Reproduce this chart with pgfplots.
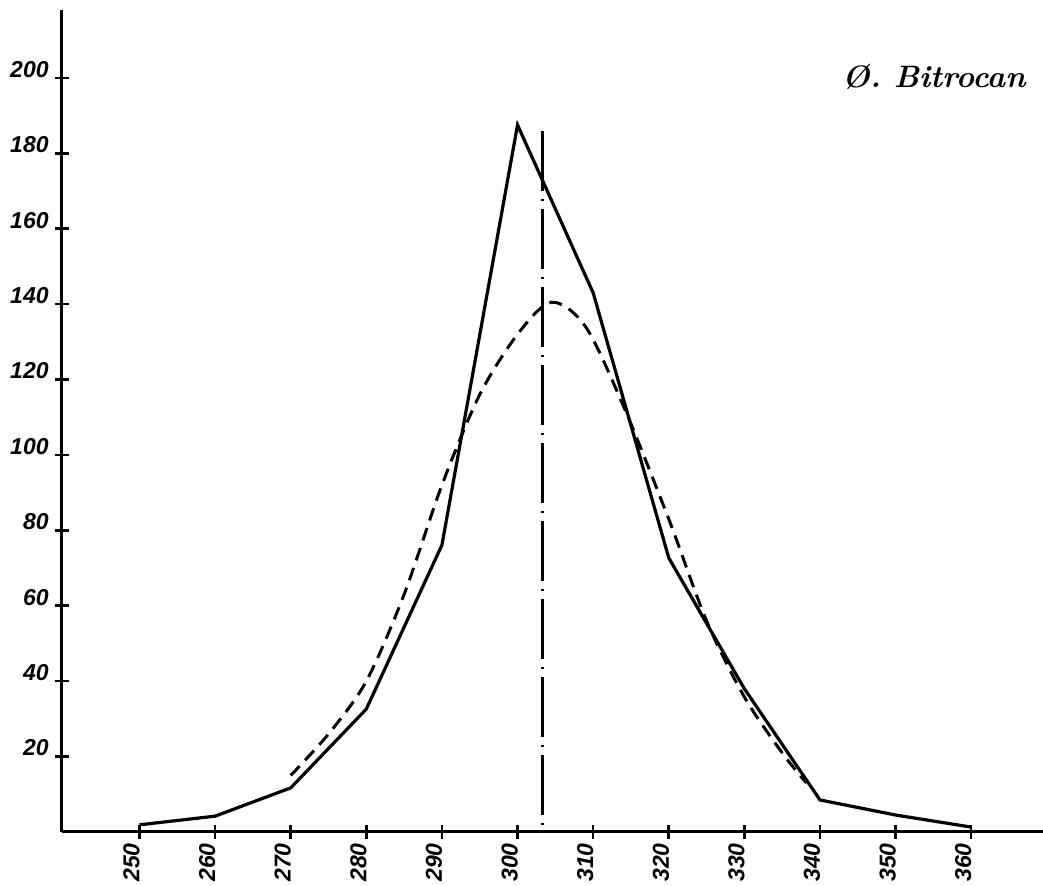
\documentclass[border=0pt]{standalone}
\usepackage{fontspec}
\newfontfamily\handfont{Liberation Sans}
\usepackage{pgfplots}
\pgfplotsset{compat=1.18}
\begin{document}
\begin{tikzpicture}
\begin{axis}[
  at={(31pt,27pt)}, anchor=south west,
  scale only axis, width=490.5pt, height=411pt,
  xmin=239.75, xmax=369.5, ymin=0, ymax=218,
  axis lines=left, axis line style={-, line width=1.5pt},
  xtick={250,260,...,360}, ytick={20,40,...,200},
  tick align=center, major tick length=7pt, tick style={line width=1.3pt, black},
  /pgf/number format/assume math mode=true,
  ticklabel style={font=\fontsize{11.5}{13}\handfont\bfseries\itshape},
  xticklabel style={yshift=-2pt, rotate=90, anchor=base east, inner sep=0pt},
  yticklabel style={anchor=south east, inner sep=0pt, xshift=-3pt},
  clip=false,
]
\addplot[black, line width=1.6pt] coordinates {
  (250,1.9) (260,4.2) (270,11.7) (280,32.6) (290,76.1) (300,187.5)
  (310,143) (320,72.7) (330,38) (340,8.5) (350,4.5) (360,1.3)};
\addplot[black, line width=1.5pt, dash pattern=on 6.5pt off 4pt, smooth, tension=0.5] coordinates {
  (270,15) (275,26) (280,40) (285,63) (290,92) (295,116) (300,132)
  (304.5,140.5) (309,134) (314,113) (320,83) (325,56)
  (330,35.8) (335,21) (338.2,13)};
\addplot[black, line width=1.2pt, dash pattern=on 30pt off 4pt on 1pt off 4pt] coordinates {
  (303.3,186) (303.3,0)};
\end{axis}
\node[anchor=base west, font=\fontsize{15.5}{18}\selectfont\bfseries\itshape, inner sep=0pt] at (421pt,399pt) {Ø. Bitrocan};
\pgfresetboundingbox
\useasboundingbox (0,0) rectangle (521.5pt,443pt);
\end{tikzpicture}
\end{document}
